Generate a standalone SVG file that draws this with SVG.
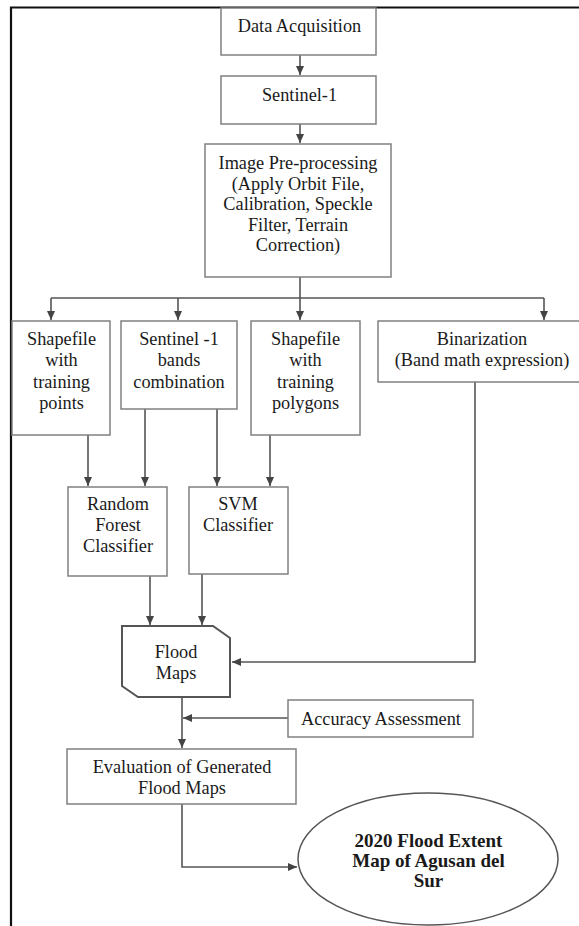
<svg xmlns="http://www.w3.org/2000/svg" width="579" height="926" viewBox="0 0 579 926">
<defs>
<marker id="ah" markerWidth="10" markerHeight="10" refX="9" refY="5" orient="auto" markerUnits="userSpaceOnUse">
<path d="M0,1 L9,5 L0,9 Z" fill="#444"/>
</marker>
<style>
.box{fill:#fff;stroke:#808080;stroke-width:1.5}
.t{font-family:"Liberation Serif","Times New Roman",serif;font-size:18.3px;fill:#1a1a1a;text-anchor:middle}
.b{font-weight:bold;font-size:19px}
.c{fill:none;stroke:#555;stroke-width:1.6}
</style>
</defs>
<rect x="0" y="0" width="579" height="926" fill="#fff"/>
<path d="M11,926 V7.5 H579" fill="none" stroke="#111" stroke-width="2.2"/>

<g id="connectors">
<path class="c" d="M300,55 V75" marker-end="url(#ah)"/>
<path class="c" d="M300,124 V143" marker-end="url(#ah)"/>
<path class="c" d="M300,277 V320" marker-end="url(#ah)"/>
<path class="c" d="M51,298 H544"/>
<path class="c" d="M51,298 V320" marker-end="url(#ah)"/>
<path class="c" d="M178,298 V320" marker-end="url(#ah)"/>
<path class="c" d="M544,298 V320" marker-end="url(#ah)"/>
<path class="c" d="M88,435 V486" marker-end="url(#ah)"/>
<path class="c" d="M145,409 V486" marker-end="url(#ah)"/>
<path class="c" d="M217,409 V486" marker-end="url(#ah)"/>
<path class="c" d="M270,435 V486" marker-end="url(#ah)"/>
<path class="c" d="M150,576 V625" marker-end="url(#ah)"/>
<path class="c" d="M202,574 V625" marker-end="url(#ah)"/>
<path class="c" d="M475,382 V662 H232" marker-end="url(#ah)"/>
<path class="c" d="M182,697 V748" marker-end="url(#ah)"/>
<path class="c" d="M288,718 H183" marker-end="url(#ah)"/>
<path class="c" d="M182,804 V867 H297" marker-end="url(#ah)"/>
</g>

<g id="data-acquisition">
<rect class="box" x="221" y="8" width="155" height="47"/>
<text class="t" x="299.5" y="32">Data Acquisition</text>
</g>
<g id="sentinel-1">
<rect class="box" x="221" y="76" width="155" height="48"/>
<text class="t" x="299.5" y="101">Sentinel-1</text>
</g>
<g id="pre-processing">
<rect class="box" x="205" y="144" width="186" height="133"/>
<text class="t" x="298" y="169">Image Pre-processing</text>
<text class="t" x="298" y="189.6">(Apply Orbit File,</text>
<text class="t" x="298" y="210.2">Calibration, Speckle</text>
<text class="t" x="298" y="230.8">Filter, Terrain</text>
<text class="t" x="298" y="251.4">Correction)</text>
</g>
<g id="shapefile-points">
<rect class="box" x="12" y="321" width="98" height="114"/>
<text class="t" x="61.5" y="345">Shapefile</text>
<text class="t" x="61.5" y="366.3">with</text>
<text class="t" x="61.5" y="387.6">training</text>
<text class="t" x="61.5" y="409">points</text>
</g>
<g id="bands-combination">
<rect class="box" x="121" y="321" width="116" height="88"/>
<text class="t" x="179" y="345">Sentinel -1</text>
<text class="t" x="179" y="366.3">bands</text>
<text class="t" x="179" y="387.6">combination</text>
</g>
<g id="shapefile-polygons">
<rect class="box" x="251" y="321" width="109" height="114"/>
<text class="t" x="305.5" y="345">Shapefile</text>
<text class="t" x="305.5" y="366.3">with</text>
<text class="t" x="305.5" y="387.6">training</text>
<text class="t" x="305.5" y="409">polygons</text>
</g>
<g id="binarization">
<rect class="box" x="378" y="321" width="205" height="61"/>
<text class="t" x="482" y="345">Binarization</text>
<text class="t" x="482" y="366">(Band math expression)</text>
</g>
<g id="random-forest">
<rect class="box" x="68" y="487" width="99" height="89"/>
<text class="t" x="118" y="510">Random</text>
<text class="t" x="118" y="531">Forest</text>
<text class="t" x="118" y="552">Classifier</text>
</g>
<g id="svm">
<rect class="box" x="189" y="487" width="99" height="87"/>
<text class="t" x="238" y="510">SVM</text>
<text class="t" x="238" y="531">Classifier</text>
</g>
<g id="flood-maps">
<path d="M122,626 H213 L230,638 V697 H138 L122,686 Z" fill="#fff" stroke="#555" stroke-width="2"/>
<text class="t" x="176" y="658">Flood</text>
<text class="t" x="176" y="679">Maps</text>
</g>
<g id="accuracy">
<rect class="box" x="288" y="700" width="185" height="37"/>
<text class="t" x="381" y="725">Accuracy Assessment</text>
</g>
<g id="evaluation">
<rect class="box" x="67" y="749" width="229" height="55"/>
<text class="t" x="182" y="773">Evaluation of Generated</text>
<text class="t" x="182" y="793.5">Flood Maps</text>
</g>
<g id="flood-extent-map">
<ellipse cx="428" cy="859" rx="130" ry="66" fill="#fff" stroke="#555" stroke-width="1.5"/>
<text class="t b" x="428.5" y="847">2020 Flood Extent</text>
<text class="t b" x="428.5" y="867">Map of Agusan del</text>
<text class="t b" x="428.5" y="887">Sur</text>
</g>
</svg>
